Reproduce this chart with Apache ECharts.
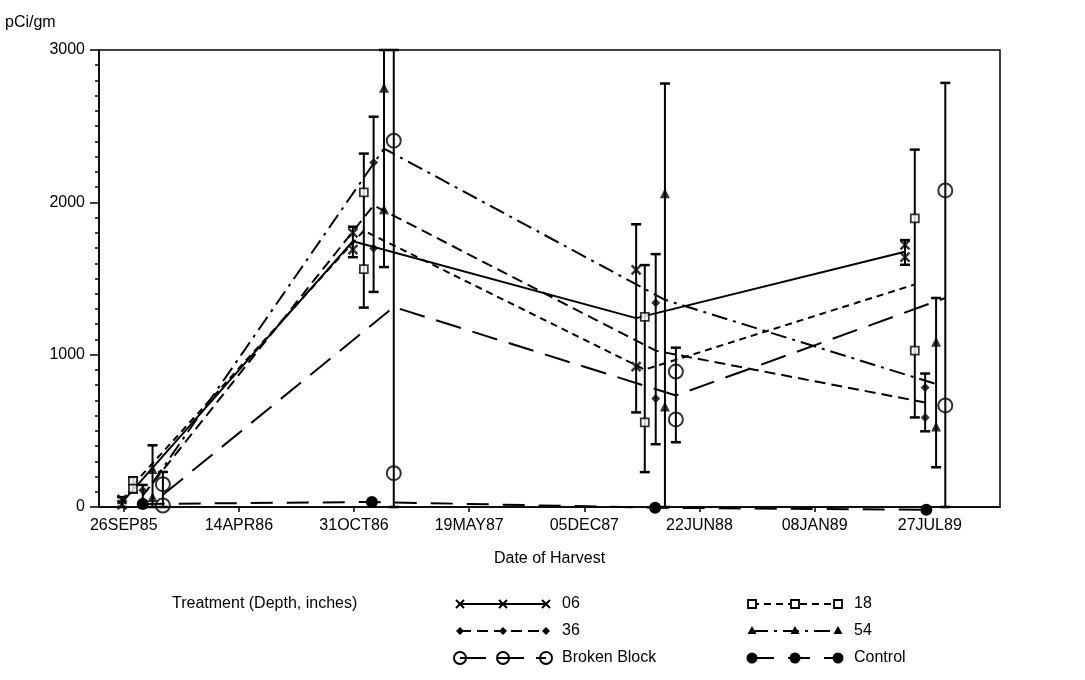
<!DOCTYPE html>
<html><head><meta charset="utf-8">
<script src="https://cdn.jsdelivr.net/npm/echarts@6/dist/echarts.min.js"></script>
<style>html,body{margin:0;padding:0;background:#fff}#c{width:1085px;height:680px}</style>
</head><body><div id="c"></div>
<script>
// ---- axis ticks (days after 26SEP85) ----
const tickDays = [0, 200, 400, 600, 800, 1000, 1200, 1400];
const tickLabels = ['26SEP85', '14APR86', '31OCT86', '19MAY87', '05DEC87', '22JUN88', '08JAN89', '27JUL89'];
const yTickValues = [0, 1000, 2000, 3000];

// ---- depth 06 ----
const days06 = [-3, 398, 890, 1357];
const rep1_06 = [50, 1800, 1556, 1720];
const rep2_06 = [15, 1690, 922, 1640];
const mean06 = [30, 1745, 1240, 1675];
const lo06 = [0, 1640, 621, 1590];
const hi06 = [65, 1840, 1856, 1752];

// ---- depth 18 ----
const days18 = [16, 417, 905, 1374];
const rep1_18 = [170, 2065, 1248, 1895];
const rep2_18 = [120, 1562, 556, 1026];
const mean18 = [145, 1814, 902, 1461];
const lo18 = [95, 1309, 229, 588];
const hi18 = [195, 2320, 1588, 2346];

// ---- depth 36 ----
const days36 = [33, 434, 924, 1392];
const rep1_36 = [110, 2261, 1340, 784];
const rep2_36 = [40, 1699, 712, 588];
const mean36 = [75, 1980, 1026, 686];
const lo36 = [0, 1412, 412, 497];
const hi36 = [145, 2562, 1660, 876];

// ---- depth 54 ----
const days54 = [50, 452, 940, 1411];
const rep1_54 = [250, 2752, 2060, 1085];
const rep2_54 = [65, 1954, 660, 529];
const mean54 = [158, 2353, 1360, 807];
const lo54 = [0, 1575, 0, 261];
const hi54 = [405, 3000, 2780, 1372];

// ---- broken block ----
const daysBB = [68, 469, 959, 1427];
const rep1_BB = [150, 2405, 889, 2078];
const rep2_BB = [10, 222, 575, 667];
const meanBB = [80, 1313, 732, 1372];
const loBB = [0, 0, 425, 0];
const hiBB = [230, 3000, 1046, 2784];

// ---- control ----
const daysCtl = [33, 431, 923, 1394];
const meanCtl = [20, 33, -5, -18];

const FONT = 'Liberation Sans, Arial, sans-serif';
const BLACK = '#000';

const dash18 = [7, 5];
const dash36 = [11, 6];
const dash54 = [16, 6, 3, 6];
const dashBB = [26, 12];
const dashCtl = [22, 14];

function pairs(days, vals) { return days.map((d, i) => [d, vals[i]]); }
function reps(days, a, b) { return days.flatMap((d, i) => [[d, a[i]], [d, b[i]]]); }
function bars(days, lo, hi) { return days.map((d, i) => [d, lo[i], hi[i]]); }

function errRender(params, api) {
  const x = api.value(0), lo = api.value(1), hi = api.value(2);
  const t = api.coord([x, hi]), b = api.coord([x, lo]);
  const w = 5;
  const st = { stroke: BLACK, lineWidth: 2 };
  return {
    type: 'group', children: [
      { type: 'line', shape: { x1: t[0], y1: t[1], x2: b[0], y2: b[1] }, style: st },
      { type: 'line', shape: { x1: t[0] - w, y1: t[1], x2: t[0] + w, y2: t[1] }, style: { stroke: BLACK, lineWidth: 2.5 } },
      { type: 'line', shape: { x1: b[0] - w, y1: b[1], x2: b[0] + w, y2: b[1] }, style: { stroke: BLACK, lineWidth: 2.5 } }
    ]
  };
}

const markers = {
  x: { symbol: 'path://M0,0L10,10M10,0L0,10', symbolSize: 9, itemStyle: { color: 'none', borderColor: BLACK, borderWidth: 2.5 } },
  square: { symbol: 'rect', symbolSize: 8, itemStyle: { color: '#fff', borderColor: BLACK, borderWidth: 1.8 } },
  diamond: { symbol: 'diamond', symbolSize: 9, itemStyle: { color: BLACK } },
  triangle: { symbol: 'triangle', symbolSize: 10, itemStyle: { color: BLACK } },
  ocircle: { symbol: 'circle', symbolSize: 14, itemStyle: { color: 'none', borderColor: BLACK, borderWidth: 2 } },
  fcircle: { symbol: 'circle', symbolSize: 12, itemStyle: { color: BLACK } }
};

const groups = [
  { name: '06', days: days06, a: rep1_06, b: rep2_06, mean: mean06, lo: lo06, hi: hi06, dash: 'solid', mk: 'x' },
  { name: '18', days: days18, a: rep1_18, b: rep2_18, mean: mean18, lo: lo18, hi: hi18, dash: dash18, mk: 'square' },
  { name: '36', days: days36, a: rep1_36, b: rep2_36, mean: mean36, lo: lo36, hi: hi36, dash: dash36, mk: 'diamond' },
  { name: '54', days: days54, a: rep1_54, b: rep2_54, mean: mean54, lo: lo54, hi: hi54, dash: dash54, mk: 'triangle' },
  { name: 'Broken Block', days: daysBB, a: rep1_BB, b: rep2_BB, mean: meanBB, lo: loBB, hi: hiBB, dash: dashBB, mk: 'ocircle' }
];

const series = [];
groups.forEach(g => {
  series.push({
    type: 'line', name: g.name, data: pairs(g.days, g.mean), showSymbol: false, z: 2,
    lineStyle: { color: BLACK, width: 2, type: g.dash }, silent: true
  });
  series.push({
    type: 'custom', name: g.name + ' bars', data: bars(g.days, g.lo, g.hi), renderItem: errRender,
    encode: { x: 0, y: [1, 2] }, z: 3, silent: true
  });
  series.push(Object.assign({
    type: 'scatter', name: g.name + ' reps', data: reps(g.days, g.a, g.b), z: 4, silent: true
  }, markers[g.mk]));
});
series.push({
  type: 'line', name: 'Control', data: pairs(daysCtl, meanCtl), showSymbol: true, clip: false, z: 4,
  symbol: 'circle', symbolSize: 12, itemStyle: { color: BLACK },
  lineStyle: { color: BLACK, width: 2, type: dashCtl }, silent: true
});

// ---- legend drawn as graphics ----
function mkGraphic(type, x, y) {
  const s = { stroke: BLACK, lineWidth: 2 };
  switch (type) {
    case 'x': return [
      { type: 'line', shape: { x1: x - 4, y1: y - 4, x2: x + 4, y2: y + 4 }, style: s },
      { type: 'line', shape: { x1: x - 4, y1: y + 4, x2: x + 4, y2: y - 4 }, style: s }];
    case 'square': return [{ type: 'rect', shape: { x: x - 4, y: y - 4, width: 8, height: 8 }, style: { fill: '#fff', stroke: BLACK, lineWidth: 1.8 } }];
    case 'diamond': return [{ type: 'polygon', shape: { points: [[x, y - 4], [x + 4, y], [x, y + 4], [x - 4, y]] }, style: { fill: BLACK } }];
    case 'triangle': return [{ type: 'polygon', shape: { points: [[x, y - 5], [x + 4.5, y + 3], [x - 4.5, y + 3]] }, style: { fill: BLACK } }];
    case 'ocircle': return [{ type: 'circle', shape: { cx: x, cy: y, r: 6 }, style: { fill: 'none', stroke: BLACK, lineWidth: 2 } }];
    case 'fcircle': return [{ type: 'circle', shape: { cx: x, cy: y, r: 5.5 }, style: { fill: BLACK } }];
  }
}
const legendItems = [
  { label: '06', mk: 'x', dash: null, col: 0, row: 0 },
  { label: '18', mk: 'square', dash: dash18, col: 1, row: 0 },
  { label: '36', mk: 'diamond', dash: dash36, col: 0, row: 1 },
  { label: '54', mk: 'triangle', dash: dash54, col: 1, row: 1 },
  { label: 'Broken Block', mk: 'ocircle', dash: dashBB, col: 0, row: 2 },
  { label: 'Control', mk: 'fcircle', dash: dashCtl, col: 1, row: 2 }
];
const colX = [460, 752];
const rowY = [604, 631, 658];
const sampleW = 86;
const graphics = [];
legendItems.forEach(it => {
  const x1 = colX[it.col], x2 = x1 + sampleW, y = rowY[it.row];
  graphics.push({ type: 'line', shape: { x1: x1, y1: y, x2: x2, y2: y }, style: { stroke: BLACK, lineWidth: 1.8, lineDash: it.dash } });
  [x1, (x1 + x2) / 2, x2].forEach(mx => mkGraphic(it.mk, mx, y).forEach(g => graphics.push(g)));
  graphics.push({ type: 'text', x: x2 + 16, y: y, style: { text: it.label, font: '16px ' + FONT, fill: BLACK, textVerticalAlign: 'middle' } });
});
graphics.push({ type: 'text', x: 172, y: rowY[0], style: { text: 'Treatment (Depth, inches)', font: '16px ' + FONT, fill: BLACK, textVerticalAlign: 'middle' } });
graphics.push({ type: 'text', x: 5, y: 23, style: { text: 'pCi/gm', font: '16px ' + FONT, fill: BLACK, textVerticalAlign: 'middle' } });

const chart = echarts.init(document.getElementById('c'));
chart.setOption({
  animation: false,
  backgroundColor: '#fff',
  grid: { left: 99, right: 85, top: 50, bottom: 173, show: true, borderColor: BLACK, borderWidth: 1.5, backgroundColor: 'transparent' },
  xAxis: {
    type: 'value', min: -43, max: 1522,
    name: 'Date of Harvest', nameLocation: 'middle', nameGap: 44,
    nameTextStyle: { fontSize: 16, fontFamily: FONT, color: BLACK },
    axisLine: { onZero: false, lineStyle: { color: BLACK, width: 1.5 } },
    axisTick: { show: true, customValues: tickDays, length: 5, lineStyle: { color: BLACK, width: 1.5 } },
    axisLabel: { customValues: tickDays, formatter: v => tickLabels[tickDays.indexOf(v)], fontSize: 16, fontFamily: FONT, color: BLACK, margin: 11 },
    splitLine: { show: false }
  },
  yAxis: {
    type: 'value', min: 0, max: 3000, interval: 1000,
    axisLine: { show: true, onZero: false, lineStyle: { color: BLACK, width: 1.5 } },
    axisTick: { show: true, length: 9, lineStyle: { color: BLACK, width: 1.5 } },
    minorTick: { show: true, splitNumber: 10, length: 4, lineStyle: { color: BLACK, width: 1.5 } },
    axisLabel: { fontSize: 16, fontFamily: FONT, color: BLACK, margin: 14, formatter: v => yTickValues.includes(v) ? String(v) : '' },
    splitLine: { show: false }
  },
  graphic: graphics,
  series: series
});
</script>
</body></html>
